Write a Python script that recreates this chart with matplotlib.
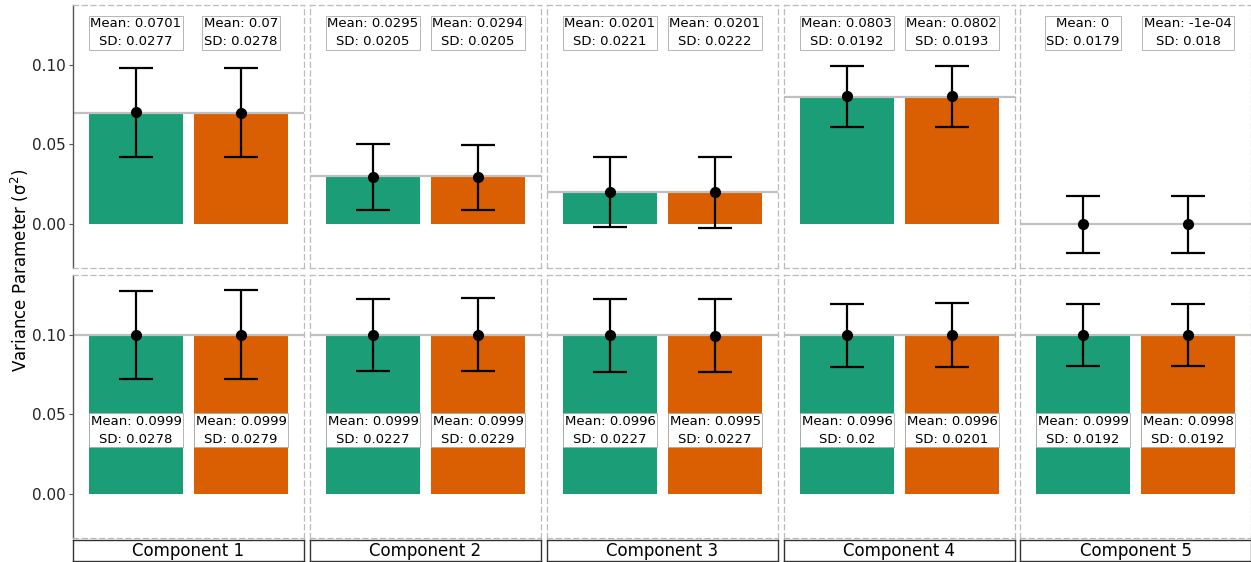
import matplotlib.pyplot as plt

components = ['Component 1', 'Component 2', 'Component 3', 'Component 4', 'Component 5']
methods = ['A', 'B']
bar_colors = ['#1b9e77', '#d95f02']

# true values (bar height / reference line), one list per row
true_top = [0.07, 0.03, 0.02, 0.08, 0.0]
true_bottom = [0.1, 0.1, 0.1, 0.1, 0.1]

# estimated means and SDs per component: [method A, method B]
mean_top = [[0.0701, 0.07], [0.0295, 0.0294], [0.0201, 0.0201], [0.0803, 0.0802], [0.0, -1e-04]]
sd_top = [[0.0277, 0.0278], [0.0205, 0.0205], [0.0221, 0.0222], [0.0192, 0.0193], [0.0179, 0.018]]
mean_bottom = [[0.0999, 0.0999], [0.0999, 0.0999], [0.0996, 0.0995], [0.0996, 0.0996], [0.0999, 0.0998]]
sd_bottom = [[0.0278, 0.0279], [0.0227, 0.0229], [0.0227, 0.0227], [0.02, 0.0201], [0.0192, 0.0192]]

label_y = [0.12, 0.04]


def fmt(v):
    # R-style short number formatting
    if v == 0:
        return '0'
    if abs(v) < 1e-3:
        return f'{v:.0e}'
    return f'{v:.4g}'


W, H = 1251, 562
fig = plt.figure(figsize=(W / 100, H / 100), dpi=100)

col_left = [73, 310, 547, 784, 1020]
col_w = 231
row_top = [5, 275]
row_h = 263

rows = [(true_top, mean_top, sd_top), (true_bottom, mean_bottom, sd_bottom)]

for r, (truth, means, sds) in enumerate(rows):
    for c in range(5):
        ax = fig.add_axes([col_left[c] / W, 1 - (row_top[r] + row_h) / H, col_w / W, row_h / H])
        xs = [1, 2]
        ax.axhline(truth[c], color='#c0c0c0', lw=1.6, zorder=2.5)
        ax.bar(xs, [truth[c]] * 2, width=0.9, color=bar_colors, zorder=2)
        ax.errorbar(xs, means[c], yerr=sds[c], fmt='o', color='black', ms=7,
                    elinewidth=1.6, capsize=12, capthick=1.6, zorder=3)
        for i in range(2):
            ax.text(xs[i], label_y[r], f'Mean: {fmt(means[c][i])}\nSD: {fmt(sds[c][i])}',
                    ha='center', va='center', multialignment='center', fontsize=9.5,
                    linespacing=1.5, zorder=4,
                    bbox=dict(boxstyle='square,pad=0.12', fc='white', ec='#aaaaaa', lw=0.6))
        ax.set_xlim(0.4, 2.6)
        ax.set_ylim(-0.0275, 0.1375)
        ax.set_xticks([])
        for s in ax.spines.values():
            s.set_linestyle((0, (4, 3)))
            s.set_color('#bbbbbb')
            s.set_linewidth(0.9)
        if c == 0:
            ax.set_yticks([0.0, 0.05, 0.10])
            ax.set_yticklabels(['0.00', '0.05', '0.10'])
            ax.tick_params(axis='y', labelsize=11, length=3, pad=2,
                           color='#555555', labelcolor='#222222')
            ax.spines['left'].set_linestyle('-')
            ax.spines['left'].set_color('#555555')
            ax.spines['left'].set_linewidth(1.0)
        else:
            ax.set_yticks([])

        if r == 1:
            sax = fig.add_axes([col_left[c] / W, 1 - 561 / H, col_w / W, 21 / H])
            sax.set_xticks([])
            sax.set_yticks([])
            for s in sax.spines.values():
                s.set_color('#333333')
                s.set_linewidth(1.0)
            sax.text(0.5, 0.5, components[c], ha='center', va='center', fontsize=12,
                     transform=sax.transAxes)

fig.text(20 / W, 1 - 270 / H, 'Variance Parameter (σ$^2$)', rotation=90,
         ha='center', va='center', fontsize=12)

fig.savefig('out.png', dpi=100, facecolor='white')
